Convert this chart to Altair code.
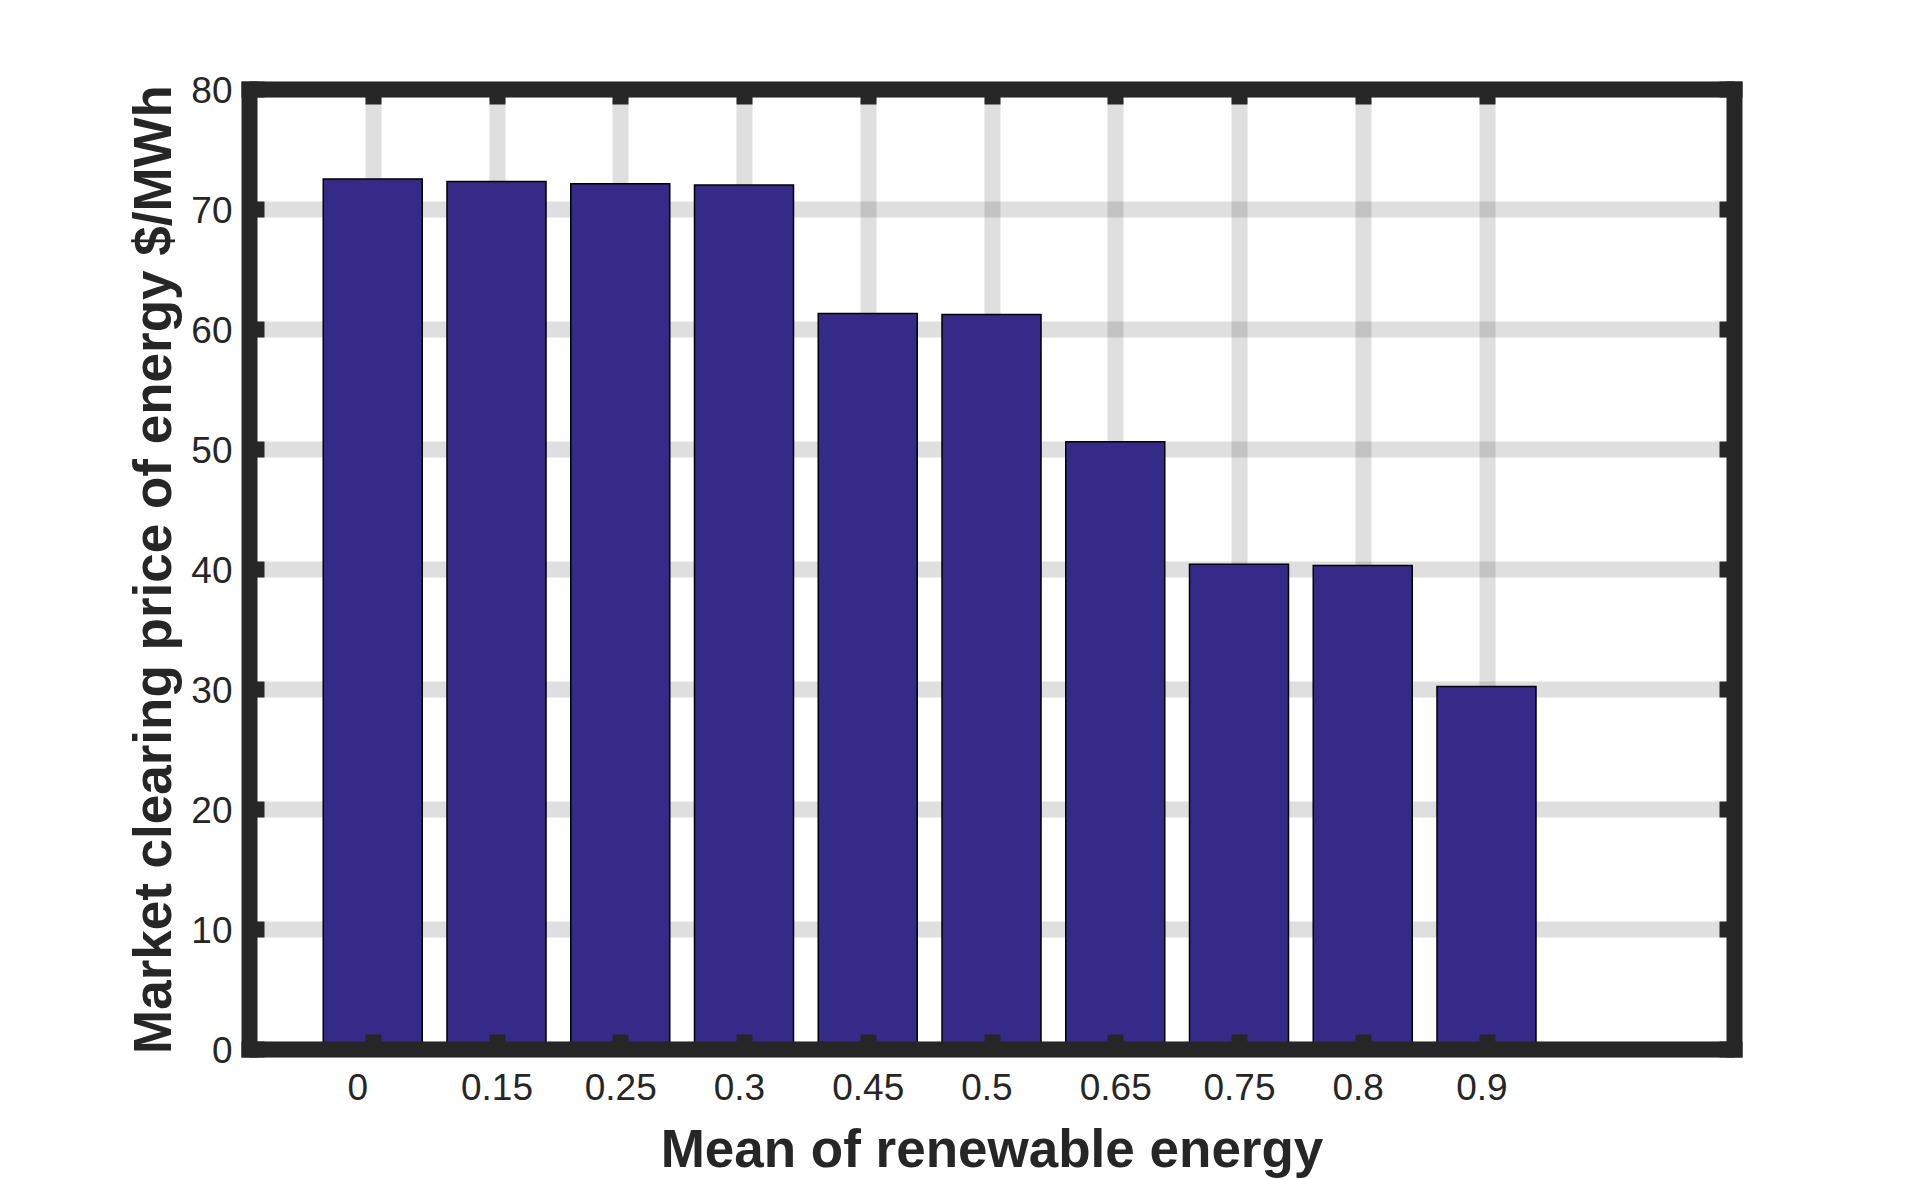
import altair as alt
import pandas as pd

# ---- data ----
labels = ["0", "0.15", "0.25", "0.3", "0.45", "0.5", "0.65", "0.75", "0.8", "0.9"]
prices = [72.5, 72.3, 72.1, 72.0, 61.3, 61.2, 50.6, 40.4, 40.3, 30.2]
y_ticks = [0, 10, 20, 30, 40, 50, 60, 70, 80]

x_title = "Mean of renewable energy"
y_title = "Market clearing price of energy $/MWh"

# ---- derived table ----
positions = list(range(1, len(labels) + 1))
df = pd.DataFrame({"pos": positions, "label": labels, "price": prices})

# MATLAB-style char padding of tick labels (left aligned, padded to same length).
# A zero-width space at the end keeps the padding from being trimmed.
pad_len = max(len(s) for s in labels)
padded = [s + "\u00a0" * (pad_len - len(s)) + "\u200b" for s in labels]
label_expr = "[" + ",".join("'" + s + "'" for s in padded) + "][datum.value - 1]"

# ---- style ----
W, H = 1485, 960
FONT = "Liberation Sans"
DARK = "#262626"
BAR = "#352A87"
FRAME_W = 16

x_scale = alt.Scale(domain=[0, len(labels) + 2], nice=False, zero=False)
y_scale = alt.Scale(domain=[0, 80], nice=False)

base = alt.Chart(df).transform_calculate(
    x0="datum.pos - 0.4", x1="datum.pos + 0.4"
)

bars = base.mark_bar(color=BAR, stroke="black", strokeWidth=1.5).encode(
    x=alt.X(
        "x0:Q",
        scale=x_scale,
        axis=alt.Axis(
            orient="bottom", values=positions, labelExpr=label_expr,
            grid=True, gridColor=DARK, gridOpacity=0.15, gridWidth=FRAME_W,
            domain=False, ticks=False,
            labelFont=FONT, labelFontSize=37, labelColor=DARK, labelPadding=21,
            labelFlush=False, labelOverlap=False,
            title=x_title, titleFont=FONT, titleFontSize=53, titleFontWeight="bold",
            titleColor=DARK, titleBaseline="alphabetic", titleY=117, zindex=0,
        ),
    ),
    x2="x1:Q",
    y=alt.Y(
        "price:Q",
        scale=y_scale,
        axis=alt.Axis(
            orient="left", values=y_ticks,
            grid=True, gridColor=DARK, gridOpacity=0.15, gridWidth=FRAME_W,
            domain=False, ticks=False,
            labelFont=FONT, labelFontSize=37, labelColor=DARK, labelPadding=17,
            labelOffset=2, labelOverlap=False,
            title=y_title, titleFont=FONT, titleFontSize=53, titleFontWeight="bold",
            titleColor=DARK, titleBaseline="alphabetic", titleAngle=270,
            titleX=-79, titleY=H / 2, zindex=0,
        ),
    ),
    y2=alt.datum(0),
)


def frame_axis(orient, values, offset):
    return alt.Axis(
        orient=orient, values=values, offset=offset,
        grid=False, labels=False, title="",
        domain=True, domainColor=DARK, domainWidth=FRAME_W, domainCap="square",
        ticks=True, tickColor=DARK, tickWidth=FRAME_W, tickSize=15, tickCap="butt",
        zindex=1,
    )


# bottom + left frame lines with inward ticks
frame_a = base.mark_bar(opacity=0).encode(
    x=alt.X("x0:Q", scale=x_scale, axis=frame_axis("top", positions, -H)),
    x2="x1:Q",
    y=alt.Y("price:Q", scale=y_scale, axis=frame_axis("right", y_ticks, -W)),
    y2=alt.datum(0),
)

# top + right frame lines with inward ticks
frame_b = base.mark_bar(opacity=0).encode(
    x=alt.X("x0:Q", scale=x_scale, axis=frame_axis("bottom", positions, -H)),
    x2="x1:Q",
    y=alt.Y("price:Q", scale=y_scale, axis=frame_axis("left", y_ticks, -W)),
    y2=alt.datum(0),
)

chart = (
    alt.layer(bars, frame_a, frame_b)
    .resolve_axis(x="independent", y="independent")
    .properties(
        width=W,
        height=H,
        padding={"left": 241, "top": 81, "right": 174, "bottom": 130},
        autosize=alt.AutoSizeParams(type="none"),
        background="white",
    )
    .configure_view(strokeWidth=0)
)

chart.save("out.html", embed_options={"renderer": "svg", "actions": False})
